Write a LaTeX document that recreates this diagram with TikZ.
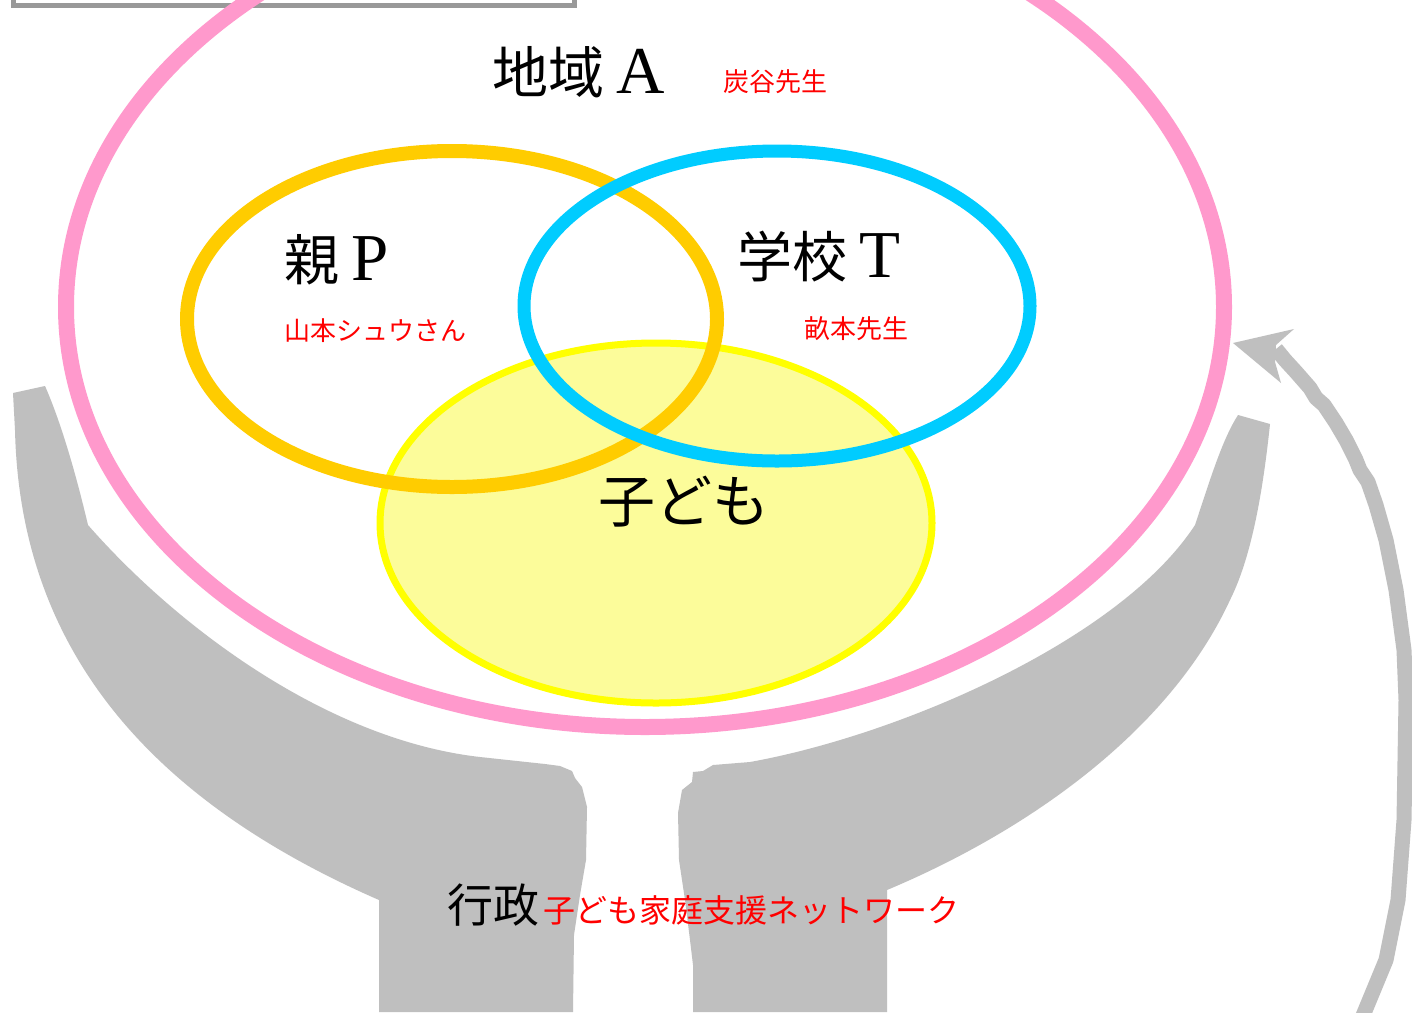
\documentclass[tikz,border=0pt]{standalone}
\usepackage{fontspec}
\newfontfamily\jp{Noto Sans CJK JP}
\newfontfamily\ser{Liberation Serif}
\definecolor{pinkc}{HTML}{FF99CC}
\definecolor{orangec}{HTML}{FFCC00}
\definecolor{bluec}{HTML}{00CCFF}
\definecolor{yelline}{HTML}{FFFF00}
\definecolor{yelfill}{HTML}{FCFC9A}
\definecolor{grayfill}{HTML}{BFBFBF}
\definecolor{boxgray}{HTML}{999999}
\definecolor{redt}{HTML}{FF0000}
\tikzset{
  band/.style={fill=grayfill, draw=none},
  big/.style={inner sep=0pt, anchor=west, font=\jp\fontsize{56}{60}\selectfont},
  small/.style={inner sep=0pt, anchor=west, text=redt, font=\jp\fontsize{26}{30}\selectfont},
}
\newcommand{\latn}[1]{{\ser\fontsize{67}{70}\selectfont #1}}
\begin{document}
\begin{tikzpicture}[x=1pt,y=-1pt]
\useasboundingbox (0,0) rectangle (1412,1012);
\fill[white] (0,0) rectangle (1412,1012);
% top-left box
\draw[boxgray, line width=5pt] (13,-30) rectangle (574,5);
% left gray band
\fill[band] (13,393) -- (45,386) .. controls (60,420) and (75,470) .. (88,525)
  .. controls (180,630) and (330,740) .. (480,757)
  -- (545,764) -- (560,766) -- (572,771) -- (575,778) -- (582,787) -- (587,807)
  -- (586,860) -- (580,895) -- (574,935) -- (573,1012) -- (379,1012) -- (379,900)
  .. controls (150,800) and (20,650) .. (15,430) -- cycle;
% right gray band
\fill[band] (1238,415) -- (1270,424) .. controls (1262,500) and (1250,560) .. (1230,600)
  .. controls (1170,730) and (1030,830) .. (887,890)
  -- (887,1012) -- (693,1012) -- (693,965) -- (690,940) -- (685,900) -- (679,860)
  -- (678,813) -- (682,790) -- (692,782) -- (693,772) -- (703,771) -- (713,765) -- (750,762)
  .. controls (900,735) and (1120,640) .. (1195,525)
  .. controls (1210,480) and (1222,440) .. (1238,415) -- cycle;
% right arrow
\coordinate (arrS) at (1362,1018);
\coordinate (arrE) at (1276,349);
\draw[grayfill, line width=15pt, line join=round]
  (arrS) -- (1386,960) -- (1398,900) -- (1404,820) -- (1406,700) -- (1404,650)
  -- (1396,590) -- (1386,540) -- (1376,505) -- (1368,482) -- (1360,470) -- (1356,460)
  -- (1346,440) -- (1336,423) -- (1324,405) -- (1316,398) -- (1310,388) -- (1296,372)
  -- (1285,360) -- (arrE);
\fill[grayfill] (1233,343) -- (1294,329) -- (1276,345) -- (1275,362) -- (1281,383) -- cycle;
% ellipses
\draw[pinkc, line width=16pt] (645,307) ellipse [x radius=579, y radius=420];
\draw[yelline, fill=yelfill, line width=7pt] (656,523) ellipse [x radius=276, y radius=180];
\draw[orangec, line width=14pt] (452,319) ellipse [x radius=265, y radius=168];
\draw[bluec, line width=13pt] (777,306) ellipse [x radius=253, y radius=155];
% texts
\node[big] (chiiki) at (492,72) {地域 \latn{A}};
\node[small] (sumi) at (723,82) {炭谷先生};
\node[big, font=\jp\fontsize{55}{60}\selectfont] (oya) at (284,260) {親 \latn{P}};
\node[small] (yama) at (284,331) {山本シュウさん};
\node[big, font=\jp\fontsize{55}{60}\selectfont] (gakko) at (737,257) {学校 \latn{T}};
\node[small] (une) at (804,329) {畝本先生};
\node[big, font=\jp\fontsize{57}{60}\selectfont] (kodomo) at (598,502) {子ども};
\node[big, font=\jp\fontsize{46}{50}\selectfont] (gyosei) at (447,905) {行政};
\node[small, font=\jp\fontsize{32}{36}\selectfont] (net) at (543,910) {子ども家庭支援ネットワーク};
\end{tikzpicture}
\end{document}
